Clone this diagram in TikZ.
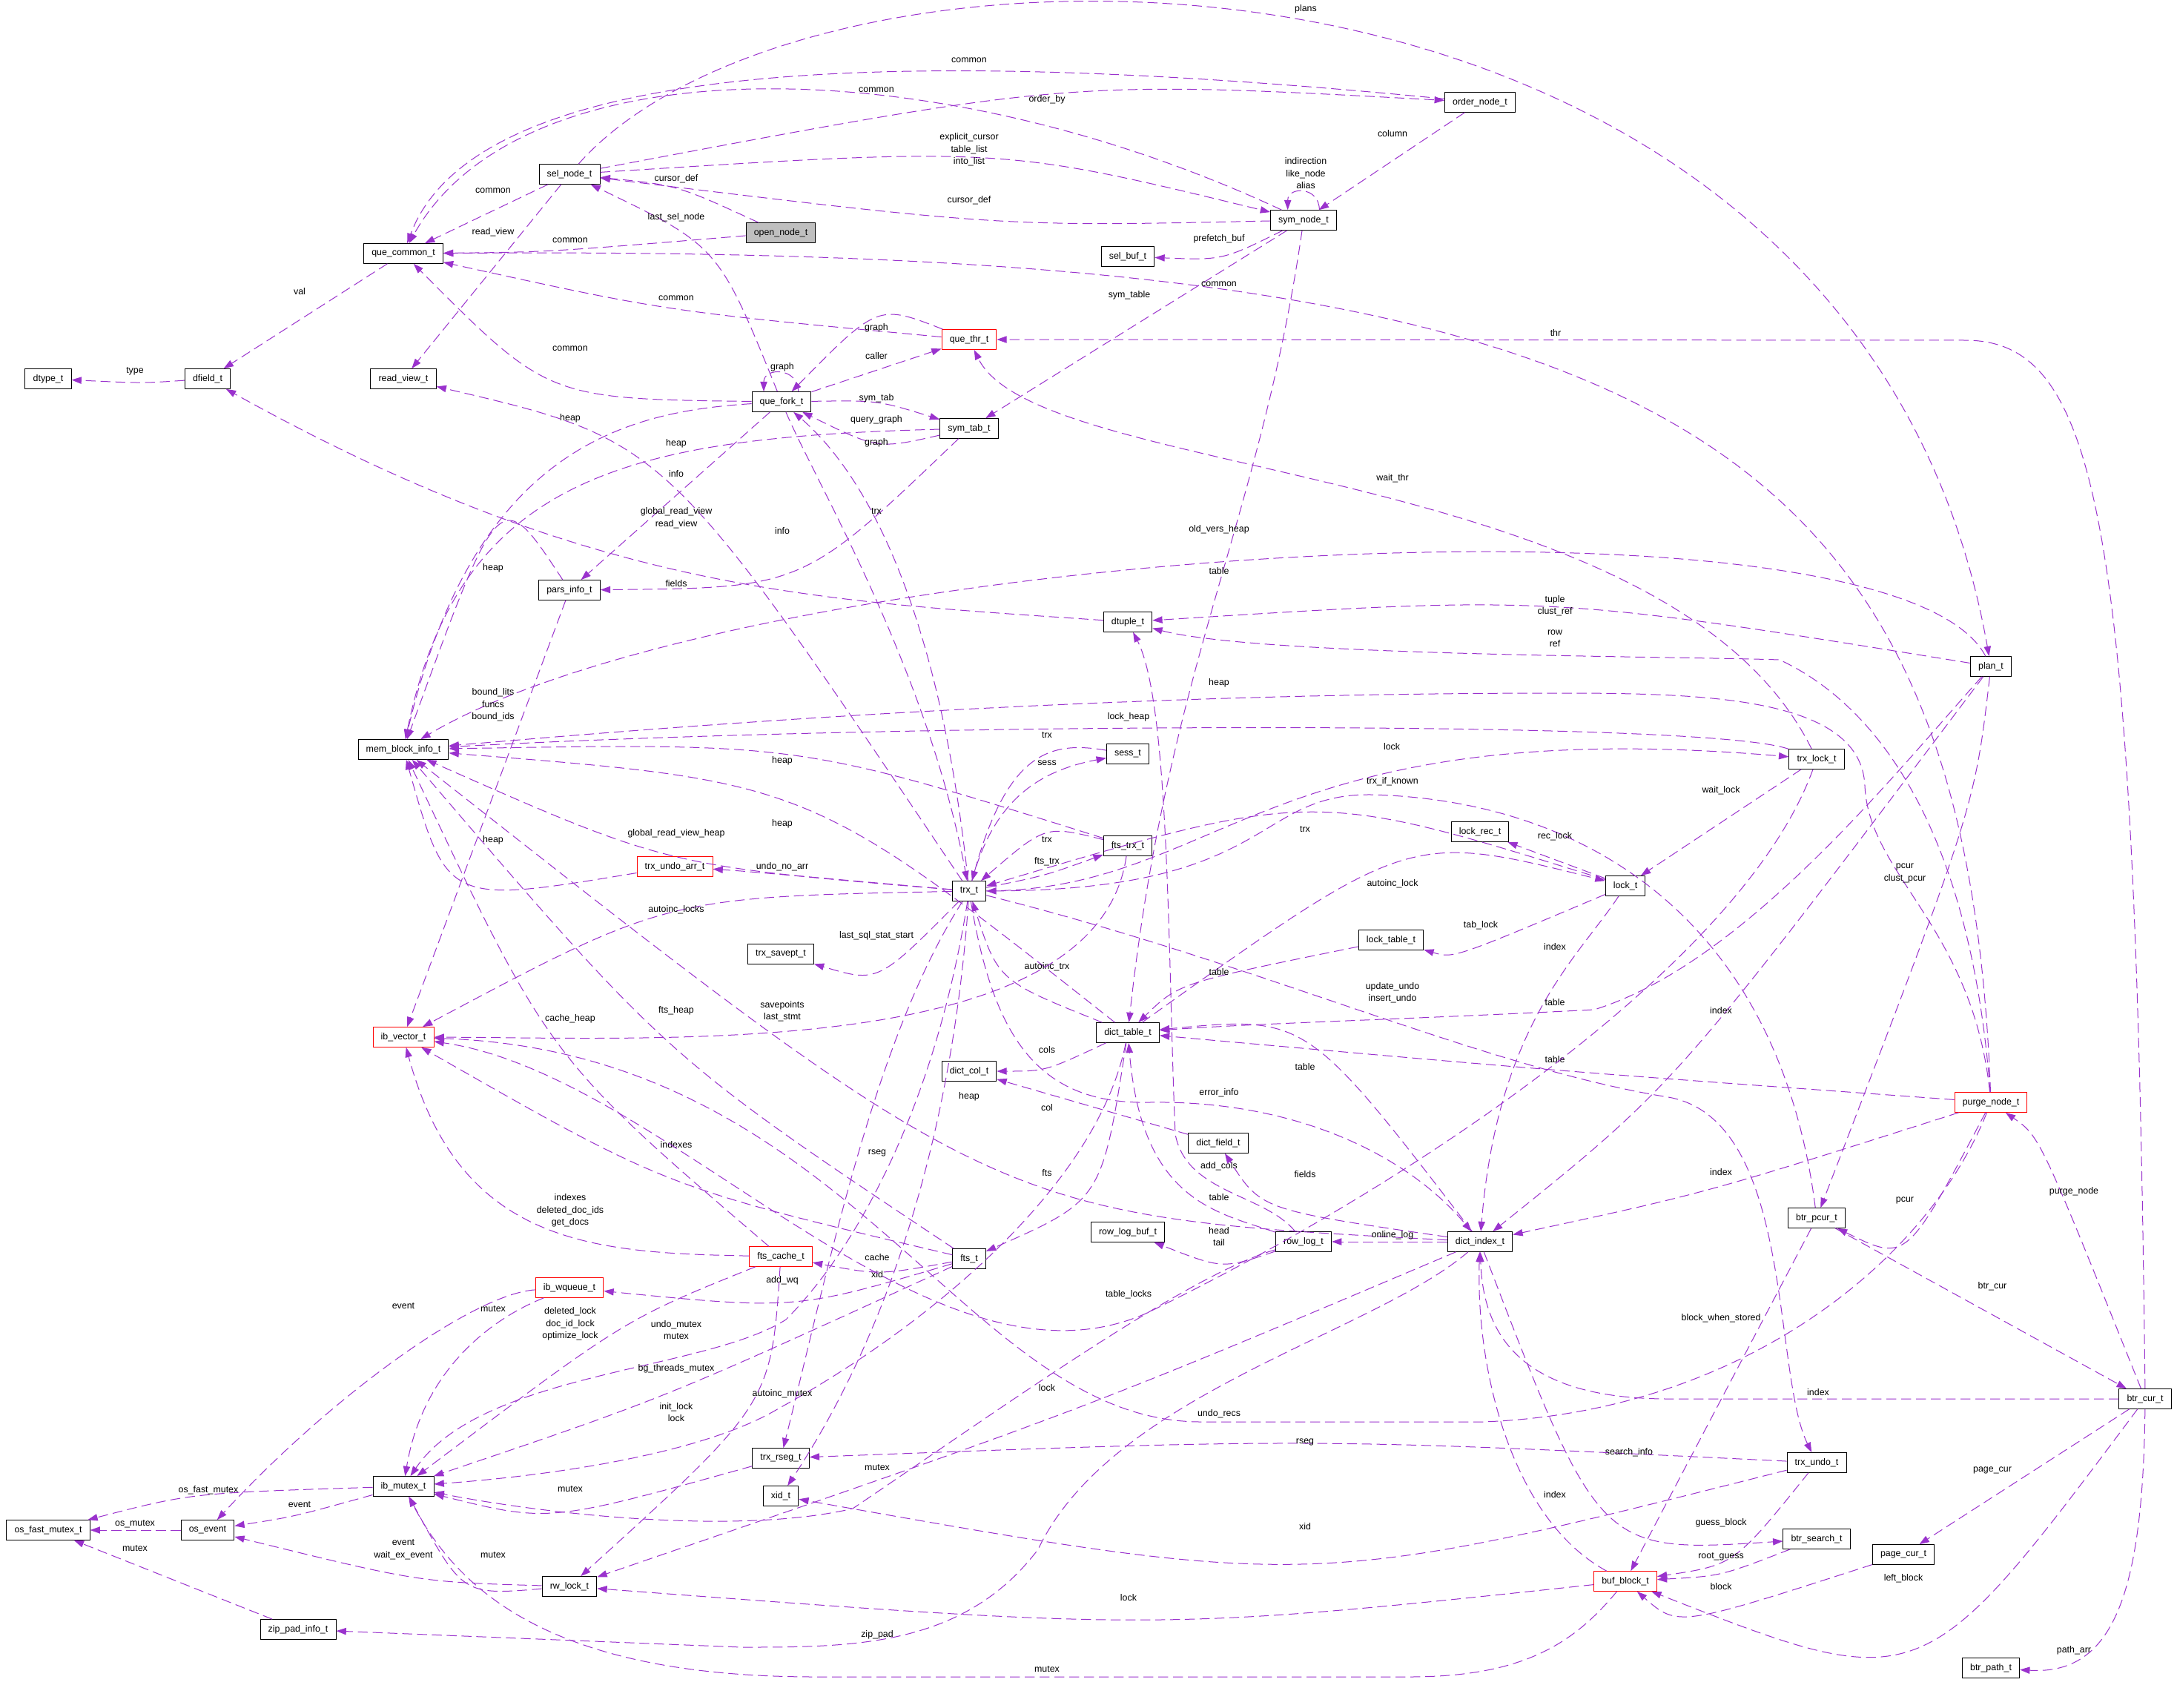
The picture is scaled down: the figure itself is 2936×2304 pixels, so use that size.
\documentclass[tikz,border=0pt]{standalone}
\usepackage{fontspec}
\setmainfont{Liberation Sans}
\usetikzlibrary{arrows.meta}
\definecolor{edgecol}{RGB}{154,50,205}
\definecolor{boxred}{RGB}{255,0,0}
\definecolor{boxgray}{RGB}{191,191,191}
\tikzset{
  cls/.style={draw=black, fill=white, line width=0.75pt, minimum height=20pt, inner xsep=8pt, inner ysep=0pt, font=\fontsize{9.3}{11}\selectfont},
  clsred/.style={cls, draw=boxred},
  member/.style={draw=edgecol, line width=0.75pt, dash pattern=on 10pt off 5pt, -{Triangle[length=10pt,width=7pt,fill=edgecol]}},
  memlbl/.style={font=\fontsize{9.3}{12.4}\selectfont, align=center, inner sep=0pt, text=black}
}

\begin{document}
\begin{tikzpicture}[x=0.75pt,y=-0.75pt]
\path[use as bounding box, fill=white] (0,0) rectangle (2936,2304);
\node[cls] (dtype) at (65,511) {dtype\_t};
\node[cls] (dfield) at (280,511) {dfield\_t};
\node[cls] (quecommon) at (544,342) {que\_common\_t};
\node[cls] (readview) at (544,511) {read\_view\_t};
\node[cls] (selnode) at (768,235) {sel\_node\_t};
\node[cls, fill=boxgray] (opennode) at (1053,314) {open\_node\_t};
\node[clsred] (quethr) at (1307,458) {que\_thr\_t};
\node[cls] (quefork) at (1054,542) {que\_fork\_t};
\node[cls] (symtab) at (1307,578) {sym\_tab\_t};
\node[cls] (ordernode) at (1996,138) {order\_node\_t};
\node[cls] (symnode) at (1758,297) {sym\_node\_t};
\node[cls] (selbuf) at (1521,346) {sel\_buf\_t};
\node[cls] (memblock) at (544,1011) {mem\_block\_info\_t};
\node[clsred] (ibvector) at (544,1399) {ib\_vector\_t};
\node[cls] (parsinfo) at (768,796) {pars\_info\_t};
\node[cls] (dtuple) at (1521,839) {dtuple\_t};
\node[cls] (plan) at (2685,899) {plan\_t};
\node[cls] (trxlock) at (2450,1024) {trx\_lock\_t};
\node[cls] (sess) at (1521,1017) {sess\_t};
\node[cls] (ftstrx) at (1521,1141) {fts\_trx\_t};
\node[cls] (lockrec) at (1996,1122) {lock\_rec\_t};
\node[cls] (lock) at (2192,1195) {lock\_t};
\node[clsred] (trxundoarr) at (910,1169) {trx\_undo\_arr\_t};
\node[cls] (trx) at (1307,1202) {trx\_t};
\node[cls] (trxsavept) at (1053,1287) {trx\_savept\_t};
\node[cls] (locktable) at (1876,1268) {lock\_table\_t};
\node[cls] (dicttable) at (1521,1393) {dict\_table\_t};
\node[cls] (dictcol) at (1307,1445) {dict\_col\_t};
\node[cls] (dictfield) at (1643,1542) {dict\_field\_t};
\node[clsred] (purgenode) at (2685,1487) {purge\_node\_t};
\node[cls] (rowlogbuf) at (1521,1662) {row\_log\_buf\_t};
\node[cls] (rowlog) at (1758,1675) {row\_log\_t};
\node[cls] (dictindex) at (1996,1675) {dict\_index\_t};
\node[cls] (btrpcur) at (2450,1643) {btr\_pcur\_t};
\node[clsred] (ftscache) at (1053,1695) {fts\_cache\_t};
\node[cls] (fts) at (1307,1698) {fts\_t};
\node[clsred] (ibwqueue) at (768,1737) {ib\_wqueue\_t};
\node[cls] (btrcur) at (2893,1887) {btr\_cur\_t};
\node[cls] (ibmutex) at (544,2005) {ib\_mutex\_t};
\node[cls] (trxrseg) at (1053,1967) {trx\_rseg\_t};
\node[cls] (trxundo) at (2450,1973) {trx\_undo\_t};
\node[cls] (xid) at (1053,2018) {xid\_t};
\node[cls] (osfastmutex) at (65,2064) {os\_fast\_mutex\_t};
\node[cls] (osevent) at (280,2064) {os\_event};
\node[cls] (btrsearch) at (2450,2076) {btr\_search\_t};
\node[cls] (pagecur) at (2567,2097) {page\_cur\_t};
\node[cls] (rwlock) at (768,2140) {rw\_lock\_t};
\node[clsred] (bufblock) at (2192,2133) {buf\_block\_t};
\node[cls] (zippad) at (402,2198) {zip\_pad\_info\_t};
\node[cls] (btrpath) at (2685,2250) {btr\_path\_t};
\draw[member] (dfield) .. controls (192,517) .. (dtype) node[memlbl, at={(182,501)}] (dfield-type) {type};
\draw[member] (quecommon) -- (dfield) node[memlbl, at={(404,393)}] (quecommon-val) {val};
\draw[member] (selnode) -- (quecommon) node[memlbl, at={(665,257)}] (selnode-common) {common};
\draw[member] (selnode) -- (readview) node[memlbl, at={(665,313)}] (selnode-readview) {read\_view};
\draw[member] (opennode) .. controls (914,250) .. (selnode) node[memlbl, at={(912,241)}] (opennode-cursordef) {cursor\_def};
\draw[member] (opennode) .. controls (740,340) .. (quecommon) node[memlbl, at={(769,324)}] (opennode-common) {common};
\draw[member] (quefork) .. controls (969,332) .. (selnode) node[memlbl, at={(912,293)}] (quefork-lastselnode) {last\_sel\_node};
\draw[member] (selnode) .. controls (1442,108) .. (ordernode) node[memlbl, at={(1412,134)}] (selnode-orderby) {order\_by};
\draw[member] (ordernode) .. controls (1300,70) and (650,60) .. (quecommon) node[memlbl, at={(1307,81)}] (ordernode-common) {common};
\draw[member] (symnode) .. controls (1250,60) and (700,60) .. (quecommon) node[memlbl, at={(1182,121)}] (symnode-common) {common};
\draw[member] (selnode) .. controls (1351,198) .. (symnode) node[memlbl, at={(1307,202)}] (selnode-explicitcursor) {explicit\_cursor\\table\_list\\into\_list};
\draw[member] (symnode) .. controls (1351,306) .. (selnode) node[memlbl, at={(1307,270)}] (symnode-cursordef) {cursor\_def};
\draw[member] (selnode) .. controls (1100,-140) and (2500,-140) .. (plan) node[memlbl, at={(1761,12)}] (selnode-plans) {plans};
\draw[member] (ordernode) -- (symnode) node[memlbl, at={(1878,180)}] (ordernode-column) {column};
\draw[member] ([xshift=16pt]symnode.north) .. controls +(0,-32) and +(0,-32) .. ([xshift=-16pt]symnode.north) node[memlbl, at={(1761,234)}] (symnode-alias) {indirection\\like\_node\\alias};
\draw[member] (symnode) .. controls (1649,351) .. (selbuf) node[memlbl, at={(1644,322)}] (symnode-prefetchbuf) {prefetch\_buf};
\draw[member] (symnode) -- (symtab) node[memlbl, at={(1523,398)}] (symnode-symtable) {sym\_table};
\draw[member] (symnode) .. controls (1700,700) and (1575,900) .. (dicttable) node[memlbl, at={(1644,770)}] (symnode-table) {table};
\draw[member] (purgenode) .. controls (2650,550) and (2200,330) .. (quecommon) node[memlbl, at={(1644,383)}] (purgenode-common) {common};
\draw[member] (quethr) .. controls (899,420) .. (quecommon) node[memlbl, at={(912,402)}] (quethr-common) {common};
\draw[member] (btrcur) .. controls (2880,700) and (2830,459) .. (2650,459) -- (quethr) node[memlbl, at={(2098,449)}] (btrcur-thr) {thr};
\draw[member] (trxlock) .. controls (2250,620) and (1400,650) .. (quethr) node[memlbl, at={(1878,645)}] (trxlock-waitthr) {wait\_thr};
\draw[member] (quethr) .. controls (1184,410) .. (quefork) node[memlbl, at={(1182,442)}] (quethr-graph) {graph};
\draw[member] (quefork) -- (quethr) node[memlbl, at={(1182,480)}] (quefork-caller) {caller};
\draw[member] ([xshift=17pt]quefork.north) .. controls +(0,-33) and +(0,-33) .. ([xshift=-18pt]quefork.north) node[memlbl, at={(1055,495)}] (quefork-graph) {graph};
\draw[member] (quefork) .. controls (739,538) .. (quecommon) node[memlbl, at={(769,470)}] (quefork-common) {common};
\draw[member] (quefork) .. controls (1184,540) .. (symtab) node[memlbl, at={(1182,537)}] (quefork-symtab) {sym\_tab};
\draw[member] (symtab) .. controls (1184,606) .. (quefork) node[memlbl, at={(1182,566)}] (symtab-querygraph) {query\_graph};
\draw[member] (trx) .. controls (1270,850) and (1180,650) .. (quefork) node[memlbl, at={(1182,597)}] (trx-graph) {graph};
\draw[member] (quefork) .. controls (850,555) and (640,600) .. (memblock) node[memlbl, at={(769,564)}] (quefork-heap) {heap};
\draw[member] (symtab) .. controls (850,590) and (620,640) .. (memblock) node[memlbl, at={(912,598)}] (symtab-heap) {heap};
\draw[member] (quefork) -- (parsinfo) node[memlbl, at={(912,639)}] (quefork-info) {info};
\draw[member] (symtab) .. controls (1083,793) .. (parsinfo) node[memlbl, at={(1055,716)}] (symtab-info) {info};
\draw[member] (trx) .. controls (899,594) .. (readview) node[memlbl, at={(912,699)}] (trx-readview) {global\_read\_view\\read\_view};
\draw[member] (quefork) .. controls (1100,650) and (1250,900) .. (trx) node[memlbl, at={(1182,690)}] (quefork-trx) {trx};
\draw[member] (plan) .. controls (2550,640) and (1000,740) .. (memblock) node[memlbl, at={(1644,714)}] (plan-oldversheap) {old\_vers\_heap};
\draw[member] (parsinfo) .. controls (674,653) .. (memblock) node[memlbl, at={(665,766)}] (parsinfo-heap) {heap};
\draw[member] (dtuple) .. controls (1100,810) and (800,800) .. (dfield) node[memlbl, at={(912,787)}] (dtuple-fields) {fields};
\draw[member] (parsinfo) -- (ibvector) node[memlbl, at={(665,951)}] (parsinfo-boundlits) {bound\_lits\\funcs\\bound\_ids};
\draw[member] (plan) .. controls (2091,803) .. (dtuple) node[memlbl, at={(2097,817)}] (plan-tuple) {tuple\\clust\_ref};
\draw[member] (purgenode) .. controls (2660,1150) and (2550,960) .. (2400,890) .. controls (2250,885) and (1700,885) .. (dtuple) node[memlbl, at={(2097,861)}] (purgenode-row) {row\\ref};
\draw[member] (purgenode) .. controls (2660,1250) and (2520,1180) .. (2515,1060) .. controls (2510,940) and (2300,935) .. (2100,935) .. controls (1400,935) and (800,990) .. (memblock) node[memlbl, at={(1644,921)}] (purgenode-heap) {heap};
\draw[member] (trxlock) .. controls (2300,970) and (1200,975) .. (memblock) node[memlbl, at={(1522,967)}] (trxlock-lockheap) {lock\_heap};
\draw[member] (sess) .. controls (1420,1000) and (1360,1010) .. (trx) node[memlbl, at={(1412,992)}] (sess-trx) {trx};
\draw[member] (trx) .. controls (1340,1080) and (1400,1040) .. (sess) node[memlbl, at={(1412,1029)}] (trx-sess) {sess};
\draw[member] (trx) .. controls (1650,1200) and (1700,960) .. (trxlock) node[memlbl, at={(1877,1007)}] (trx-lock) {lock};
\draw[member] (ftstrx) .. controls (1078,1002) .. (memblock) node[memlbl, at={(1055,1026)}] (ftstrx-heap) {heap};
\draw[member] (btrpcur) .. controls (2400,1250) and (2150,1080) .. (1850,1072) .. controls (1690,1070) and (1720,1200) .. (trx) node[memlbl, at={(1878,1054)}] (btrpcur-trxifknown) {trx\_if\_known};
\draw[member] (dicttable) .. controls (1092,1054) .. (memblock) node[memlbl, at={(1055,1111)}] (dicttable-heap) {heap};
\draw[member] (trxlock) -- (lock) node[memlbl, at={(2321,1066)}] (trxlock-waitlock) {wait\_lock};
\draw[member] (lock) .. controls (1771,1064) .. (trx) node[memlbl, at={(1760,1119)}] (lock-trx) {trx};
\draw[member] (lock) -- (lockrec) node[memlbl, at={(2097,1128)}] (lock-reclock) {rec\_lock};
\draw[member] (trx) .. controls (899,1168) .. (memblock) node[memlbl, at={(912,1124)}] (trx-globalreadviewheap) {global\_read\_view\_heap};
\draw[member] (trxundoarr) .. controls (603,1220) .. (memblock) node[memlbl, at={(665,1133)}] (trxundoarr-heap) {heap};
\draw[member] (ftstrx) .. controls (1410,1113) .. (trx) node[memlbl, at={(1412,1133)}] (ftstrx-trx) {trx};
\draw[member] (trx) .. controls (1410,1181) .. (ftstrx) node[memlbl, at={(1412,1162)}] (trx-ftstrx) {fts\_trx};
\draw[member] (trx) .. controls (1002,1175) .. (trxundoarr) node[memlbl, at={(1055,1169)}] (trx-undonoarr) {undo\_no\_arr};
\draw[member] (plan) .. controls (2663,1089) .. (btrpcur) node[memlbl, at={(2569,1178)}] (plan-pcur) {pcur\\clust\_pcur};
\draw[member] (dicttable) .. controls (1900,1122) .. (lock) node[memlbl, at={(1878,1192)}] (dicttable-autoinclock) {autoinc\_lock};
\draw[member] (trx) .. controls (899,1210) .. (ibvector) node[memlbl, at={(912,1227)}] (trx-autoinclocks) {autoinc\_locks};
\draw[member] (lock) .. controls (1960,1293) .. (locktable) node[memlbl, at={(1997,1248)}] (lock-tablock) {tab\_lock};
\draw[member] (trx) .. controls (1184,1326) .. (trxsavept) node[memlbl, at={(1182,1262)}] (trx-lastsqlstatstart) {last\_sql\_stat\_start};
\draw[member] (lock) .. controls (2130,1290) and (2020,1380) .. (dictindex) node[memlbl, at={(2097,1277)}] (lock-index) {index};
\draw[member] (dicttable) .. controls (1346,1323) .. (trx) node[memlbl, at={(1412,1304)}] (dicttable-autoinctrx) {autoinc\_trx};
\draw[member] (locktable) .. controls (1590,1326) .. (dicttable) node[memlbl, at={(1644,1311)}] (locktable-table) {table};
\draw[member] (trx) .. controls (1700,1300) and (2000,1440) .. (2250,1480) .. controls (2420,1510) and (2390,1850) .. (trxundo) node[memlbl, at={(1878,1339)}] (trx-updateundo) {update\_undo\\insert\_undo};
\draw[member] (plan) .. controls (2550,1050) and (2350,1300) .. (2150,1362) .. controls (1900,1375) and (1700,1380) .. (dicttable) node[memlbl, at={(2097,1352)}] (plan-table) {table};
\draw[member] (ftstrx) .. controls (1480,1430) and (900,1400) .. (ibvector) node[memlbl, at={(1055,1364)}] (ftstrx-savepoints) {savepoints\\last\_stmt};
\draw[member] (fts) .. controls (899,1426) .. (memblock) node[memlbl, at={(912,1363)}] (fts-ftsheap) {fts\_heap};
\draw[member] (ftscache) .. controls (740,1427) .. (memblock) node[memlbl, at={(769,1374)}] (ftscache-cacheheap) {cache\_heap};
\draw[member] (plan) .. controls (2260,1463) .. (dictindex) node[memlbl, at={(2321,1363)}] (plan-index) {index};
\draw[member] (dicttable) .. controls (1410,1445) .. (dictcol) node[memlbl, at={(1412,1416)}] (dicttable-cols) {cols};
\draw[member] (purgenode) .. controls (2091,1444) .. (dicttable) node[memlbl, at={(2097,1429)}] (purgenode-table) {table};
\draw[member] (dictindex) .. controls (1762,1370) .. (dicttable) node[memlbl, at={(1760,1439)}] (dictindex-table) {table};
\draw[member] (trx) .. controls (1340,1400) and (1400,1490) .. (1550,1487) .. controls (1750,1484) and (1900,1560) .. (dictindex) node[memlbl, at={(1644,1474)}] (trx-errorinfo) {error\_info};
\draw[member] (dictindex) .. controls (1344,1641) .. (memblock) node[memlbl, at={(1307,1479)}] (dictindex-heap) {heap};
\draw[member] (dictfield) -- (dictcol) node[memlbl, at={(1412,1494)}] (dictfield-col) {col};
\draw[member] (fts) .. controls (899,1602) .. (ibvector) node[memlbl, at={(912,1544)}] (fts-indexes) {indexes};
\draw[member] (trx) .. controls (1180,1400) and (1120,1700) .. (trxrseg) node[memlbl, at={(1183,1555)}] (trx-rseg) {rseg};
\draw[member] (rowlog) .. controls (1705,1610) and (1600,1610) .. (1585,1530) .. controls (1575,1300) and (1578,950) .. (dtuple) node[memlbl, at={(1644,1573)}] (rowlog-addcols) {add\_cols};
\draw[member] (dicttable) .. controls (1486,1619) .. (fts) node[memlbl, at={(1412,1582)}] (dicttable-fts) {fts};
\draw[member] (dictindex) .. controls (1701,1632) .. (dictfield) node[memlbl, at={(1760,1584)}] (dictindex-fields) {fields};
\draw[member] (purgenode) .. controls (2302,1609) .. (dictindex) node[memlbl, at={(2321,1581)}] (purgenode-index) {index};
\draw[member] (btrcur) .. controls (2751,1533) .. (purgenode) node[memlbl, at={(2797,1607)}] (btrcur-purgenode) {purge\_node};
\draw[member] (rowlog) .. controls (1640,1635) and (1540,1620) .. (dicttable) node[memlbl, at={(1644,1615)}] (rowlog-table) {table};
\draw[member] (purgenode) .. controls (2571,1703) .. (btrpcur) node[memlbl, at={(2569,1619)}] (purgenode-pcur) {pcur};
\draw[member] (ftscache) .. controls (800,1690) and (620,1680) .. (ibvector) node[memlbl, at={(769,1633)}] (ftscache-indexes) {indexes\\deleted\_doc\_ids\\get\_docs};
\draw[member] (rowlog) .. controls (1649,1712) .. (rowlogbuf) node[memlbl, at={(1644,1668)}] (rowlog-head) {head\\tail};
\draw[member] (dictindex) -- (rowlog) node[memlbl, at={(1878,1666)}] (dictindex-onlinelog) {online\_log};
\draw[member] (fts) .. controls (1186,1720) .. (ftscache) node[memlbl, at={(1183,1696)}] (fts-cache) {cache};
\draw[member] (trx) .. controls (1290,1450) and (1230,1750) .. (xid) node[memlbl, at={(1183,1719)}] (trx-xid) {xid};
\draw[member] (fts) .. controls (1073,1767) .. (ibwqueue) node[memlbl, at={(1055,1727)}] (fts-addwq) {add\_wq};
\draw[member] (btrpcur) -- (btrcur) node[memlbl, at={(2687,1735)}] (btrpcur-btrcur) {btr\_cur};
\draw[member] (trxlock) .. controls (2350,1300) and (1900,1600) .. (1545,1772) .. controls (1250,1900) and (900,1450) .. (ibvector) node[memlbl, at={(1522,1746)}] (trxlock-tablelocks) {table\_locks};
\draw[member] (ibwqueue) .. controls (640,1745) and (450,1880) .. (osevent) node[memlbl, at={(544,1762)}] (ibwqueue-event) {event};
\draw[member] (ibwqueue) .. controls (660,1780) and (570,1850) .. (ibmutex) node[memlbl, at={(665,1766)}] (ibwqueue-mutex) {mutex};
\draw[member] (btrpcur) -- (bufblock) node[memlbl, at={(2321,1778)}] (btrpcur-blockwhenstored) {block\_when\_stored};
\draw[member] (ftscache) .. controls (842,1780) .. (ibmutex) node[memlbl, at={(769,1786)}] (ftscache-deletedlock) {deleted\_lock\\doc\_id\_lock\\optimize\_lock};
\draw[member] (trx) .. controls (1260,1500) and (1150,1690) .. (1060,1780) .. controls (950,1850) and (650,1850) .. (ibmutex) node[memlbl, at={(912,1794)}] (trx-undomutex) {undo\_mutex\\mutex};
\draw[member] (fts) .. controls (899,1885) .. (ibmutex) node[memlbl, at={(912,1846)}] (fts-bgthreadsmutex) {bg\_threads\_mutex};
\draw[member] (dictindex) .. controls (1458,1903) .. (rwlock) node[memlbl, at={(1412,1872)}] (dictindex-lock) {lock};
\draw[member] (btrcur) -- (2250,1887) .. controls (2050,1887) and (2000,1800) .. (dictindex) node[memlbl, at={(2452,1878)}] (btrcur-index) {index};
\draw[member] (dicttable) .. controls (1480,1600) and (1250,1790) .. (1050,1900) .. controls (950,1960) and (750,1990) .. (ibmutex) node[memlbl, at={(1055,1880)}] (dicttable-autoincmutex) {autoinc\_mutex};
\draw[member] (ftscache) .. controls (1040,1893) .. (rwlock) node[memlbl, at={(912,1905)}] (ftscache-initlock) {init\_lock\\lock};
\draw[member] (purgenode) .. controls (2600,1700) and (2350,1905) .. (2000,1918) -- (1620,1918) .. controls (1300,1918) and (1150,1420) .. (ibvector) node[memlbl, at={(1644,1907)}] (purgenode-undorecs) {undo\_recs};
\draw[member] (trxundo) .. controls (1769,1940) .. (trxrseg) node[memlbl, at={(1760,1945)}] (trxundo-rseg) {rseg};
\draw[member] (dictindex) .. controls (2157,2095) .. (btrsearch) node[memlbl, at={(2197,1959)}] (dictindex-searchinfo) {search\_info};
\draw[member] (rowlog) .. controls (1600,1720) and (1350,1900) .. (1150,2035) .. controls (1000,2070) and (750,2045) .. (ibmutex) node[memlbl, at={(1183,1980)}] (rowlog-mutex) {mutex};
\draw[member] (btrcur) -- (pagecur) node[memlbl, at={(2687,1983)}] (btrcur-pagecur) {page\_cur};
\draw[member] (trxrseg) .. controls (740,2054) .. (ibmutex) node[memlbl, at={(769,2009)}] (trxrseg-mutex) {mutex};
\draw[member] (ibmutex) .. controls (258,2014) .. (osfastmutex) node[memlbl, at={(281,2010)}] (ibmutex-osfastmutex) {os\_fast\_mutex};
\draw[member] (bufblock) .. controls (2040,2050) and (1990,1850) .. (dictindex) node[memlbl, at={(2097,2016)}] (bufblock-index) {index};
\draw[member] (ibmutex) .. controls (396,2046) .. (osevent) node[memlbl, at={(404,2030)}] (ibmutex-event) {event};
\draw[member] (trxundo) .. controls (2339,2111) .. (bufblock) node[memlbl, at={(2321,2054)}] (trxundo-guessblock) {guess\_block};
\draw[member] (osevent) -- (osfastmutex) node[memlbl, at={(182,2056)}] (osevent-osmutex) {os\_mutex};
\draw[member] (trxundo) .. controls (1769,2145) .. (xid) node[memlbl, at={(1760,2059)}] (trxundo-xid) {xid};
\draw[member] (rwlock) .. controls (564,2134) .. (osevent) node[memlbl, at={(544,2090)}] (rwlock-event) {event\\wait\_ex\_event};
\draw[member] (rwlock) .. controls (624,2152) .. (ibmutex) node[memlbl, at={(665,2098)}] (rwlock-mutex) {mutex};
\draw[member] (zippad) -- (osfastmutex) node[memlbl, at={(182,2089)}] (zippad-mutex) {mutex};
\draw[member] (btrsearch) .. controls (2321,2126) .. (bufblock) node[memlbl, at={(2321,2100)}] (btrsearch-rootguess) {root\_guess};
\draw[member] (btrcur) .. controls (2592,2290) .. (bufblock) node[memlbl, at={(2567,2129)}] (btrcur-leftblock) {left\_block};
\draw[member] (pagecur) .. controls (2263,2195) .. (bufblock) node[memlbl, at={(2321,2140)}] (pagecur-block) {block};
\draw[member] (bufblock) .. controls (1564,2200) .. (rwlock) node[memlbl, at={(1522,2155)}] (bufblock-lock) {lock};
\draw[member] (dictindex) .. controls (1850,1800) and (1500,1880) .. (1400,2090) .. controls (1300,2222) and (1150,2222) .. (1000,2222) -- (zippad) node[memlbl, at={(1183,2205)}] (dictindex-zippad) {zip\_pad};
\draw[member] (btrcur) .. controls (2890,2150) and (2850,2260) .. (btrpath) node[memlbl, at={(2797,2226)}] (btrcur-patharr) {path\_arr};
\draw[member] (bufblock) .. controls (2120,2220) and (2050,2262) .. (1900,2262) -- (1100,2262) .. controls (750,2262) and (620,2150) .. (ibmutex) node[memlbl, at={(1412,2252)}] (bufblock-mutex) {mutex};
\end{tikzpicture}
\end{document}
